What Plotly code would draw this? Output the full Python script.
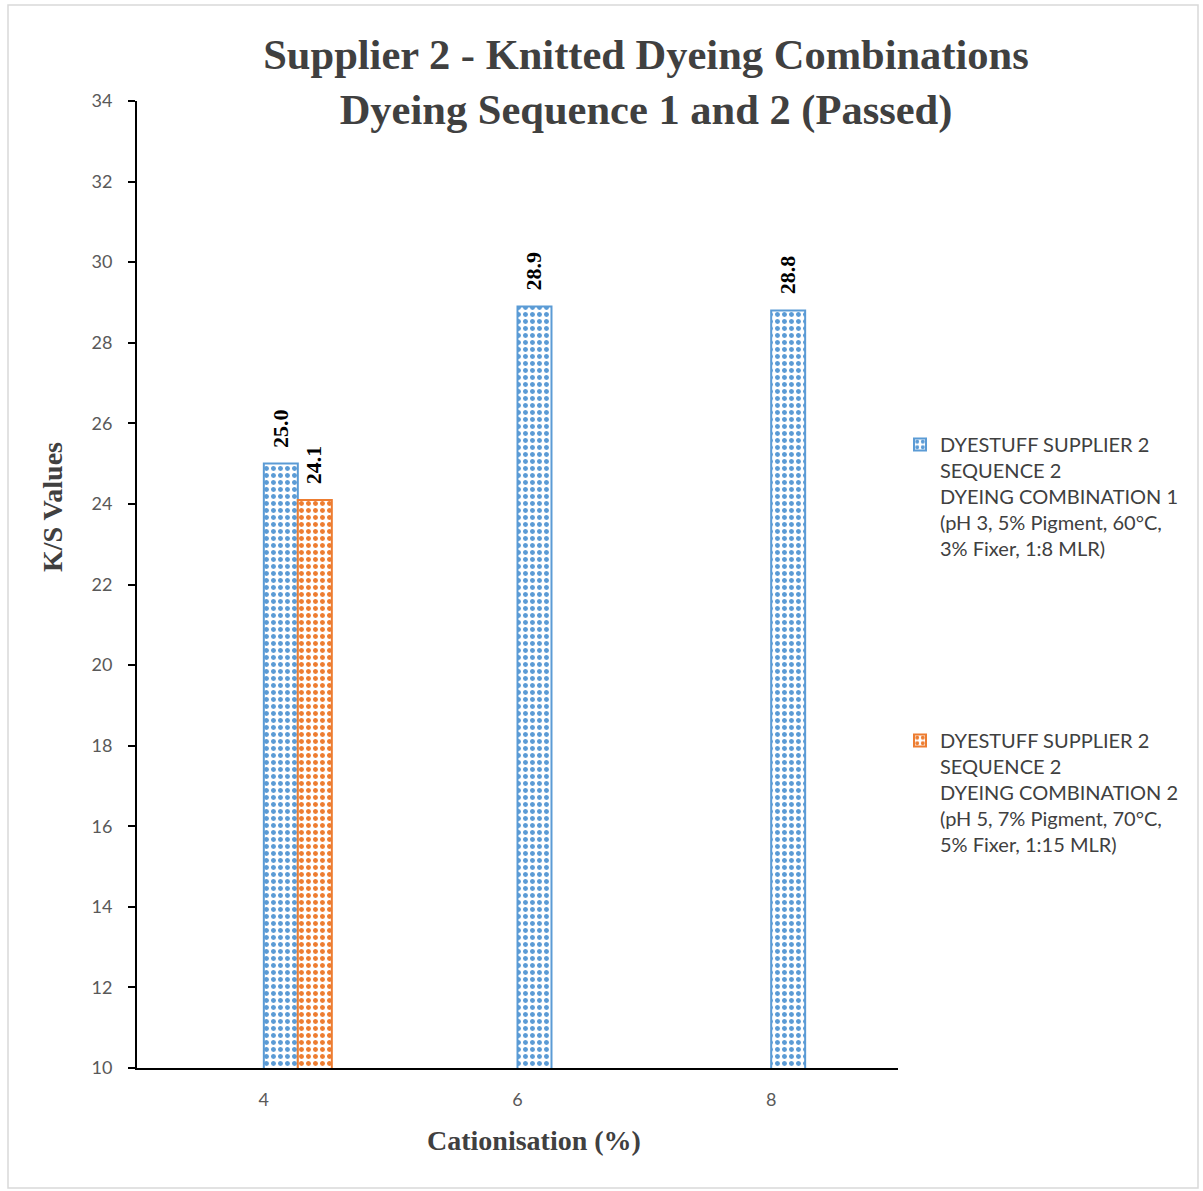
import plotly.graph_objects as go

# Cationisation levels (%) and K/S values per dyeing combination
cationisation = [4, 6, 8]
combo1_ks = [25.0, 28.9, 28.8]
combo2_ks = [24.1, None, None]

series_names = [
    "DYESTUFF SUPPLIER 2<br>SEQUENCE 2<br>DYEING COMBINATION 1<br>(pH 3, 5% Pigment, 60°C,<br>3% Fixer, 1:8 MLR)",
    "DYESTUFF SUPPLIER 2<br>SEQUENCE 2<br>DYEING COMBINATION 2<br>(pH 5, 7% Pigment, 70°C,<br>5% Fixer, 1:15 MLR)",
]
series_colors = ["#5B9BD5", "#ED7D31"]
y_ticks = list(range(10, 35, 2))

BAR_W = 0.268
SERIF = "Liberation Serif"
SANS = "Lato"
PLOT_L, PLOT_R, PLOT_T, PLOT_B = 137, 898, 101, 1068
PW, PH = PLOT_R - PLOT_L, PLOT_B - PLOT_T


def px_x(px):
    return (px - PLOT_L) / PW


def px_y(py):
    return (PLOT_B - py) / PH


fig = go.Figure()
annotations = []
for i, (vals, name, col) in enumerate(zip([combo1_ks, combo2_ks], series_names, series_colors)):
    offset = i * BAR_W
    fig.add_trace(go.Bar(
        x=cationisation, y=vals, name=name, legendgroup=f"g{i}",
        width=BAR_W, offset=offset,
        marker=dict(color="white",
                    line=dict(color=col, width=2),
                    pattern=dict(shape=".", fgcolor=col, bgcolor="white",
                                 size=7, solidity=0.4, fillmode="replace")),
    ))
    # value labels, rotated, sitting above each bar
    for xv, yv in zip(cationisation, vals):
        if yv is None:
            continue
        annotations.append(dict(
            x=xv + offset + BAR_W / 2, y=yv, xref="x", yref="y",
            text=f"<b>{yv:.1f}</b>", textangle=-90, showarrow=False,
            xanchor="center", yanchor="bottom", yshift=14, xshift=-1,
            font=dict(family=SERIF, size=22, color="black"),
        ))

# axis titles
annotations.append(dict(
    x=px_x(534), y=px_y(1140), xref="paper", yref="paper",
    text="<b>Cationisation (%)</b>", showarrow=False,
    xanchor="center", yanchor="middle",
    font=dict(family=SERIF, size=28, color="#404040"),
))
annotations.append(dict(
    x=px_x(52), y=px_y(507), xref="paper", yref="paper",
    text="<b>K/S Values</b>", showarrow=False, textangle=-90,
    xanchor="center", yanchor="middle",
    font=dict(family=SERIF, size=28, color="#404040"),
))

fig.update_layout(
    width=1203, height=1191,
    margin=dict(l=PLOT_L, r=1203 - PLOT_R, t=PLOT_T, b=1191 - PLOT_B, autoexpand=False),
    paper_bgcolor="white", plot_bgcolor="white",
    barmode="overlay",
    title=dict(
        text="<b>Supplier 2 - Knitted Dyeing Combinations<br>Dyeing Sequence 1 and 2 (Passed)</b>",
        x=646 / 1203, xanchor="center", xref="container",
        y=1 - 69 / 1191, yanchor="middle", yref="container",
        font=dict(family=SERIF, size=42.5, color="#404040"),
    ),
    xaxis=dict(
        range=[3, 9], tickvals=cationisation, ticktext=[str(c) for c in cationisation],
        showgrid=False, zeroline=False, showline=True, linecolor="black", linewidth=2,
        ticks="", ticklabelstandoff=14,
        tickfont=dict(family=SANS, size=18, color="#595959"),
    ),
    yaxis=dict(
        range=[10, 34], tickvals=y_ticks, showgrid=False, zeroline=False,
        showline=True, linecolor="black", linewidth=2,
        ticks="outside", ticklen=7, tickcolor="black", tickwidth=2,
        ticklabelstandoff=12,
        tickfont=dict(family=SANS, size=18, color="#595959"),
    ),
    legend=dict(
        x=px_x(900), xanchor="left", y=px_y(425), yanchor="top",
        font=dict(family=SANS, size=20, color="#404040"),
        tracegroupgap=163, valign="top", bgcolor="rgba(0,0,0,0)",
    ),
    annotations=annotations,
    shapes=[dict(type="rect", xref="paper", yref="paper",
                 x0=px_x(8), x1=px_x(1198),
                 y0=px_y(1188), y1=px_y(5),
                 line=dict(color="#D9D9D9", width=1.5), layer="below")],
)

fig.write_html("out.html")
